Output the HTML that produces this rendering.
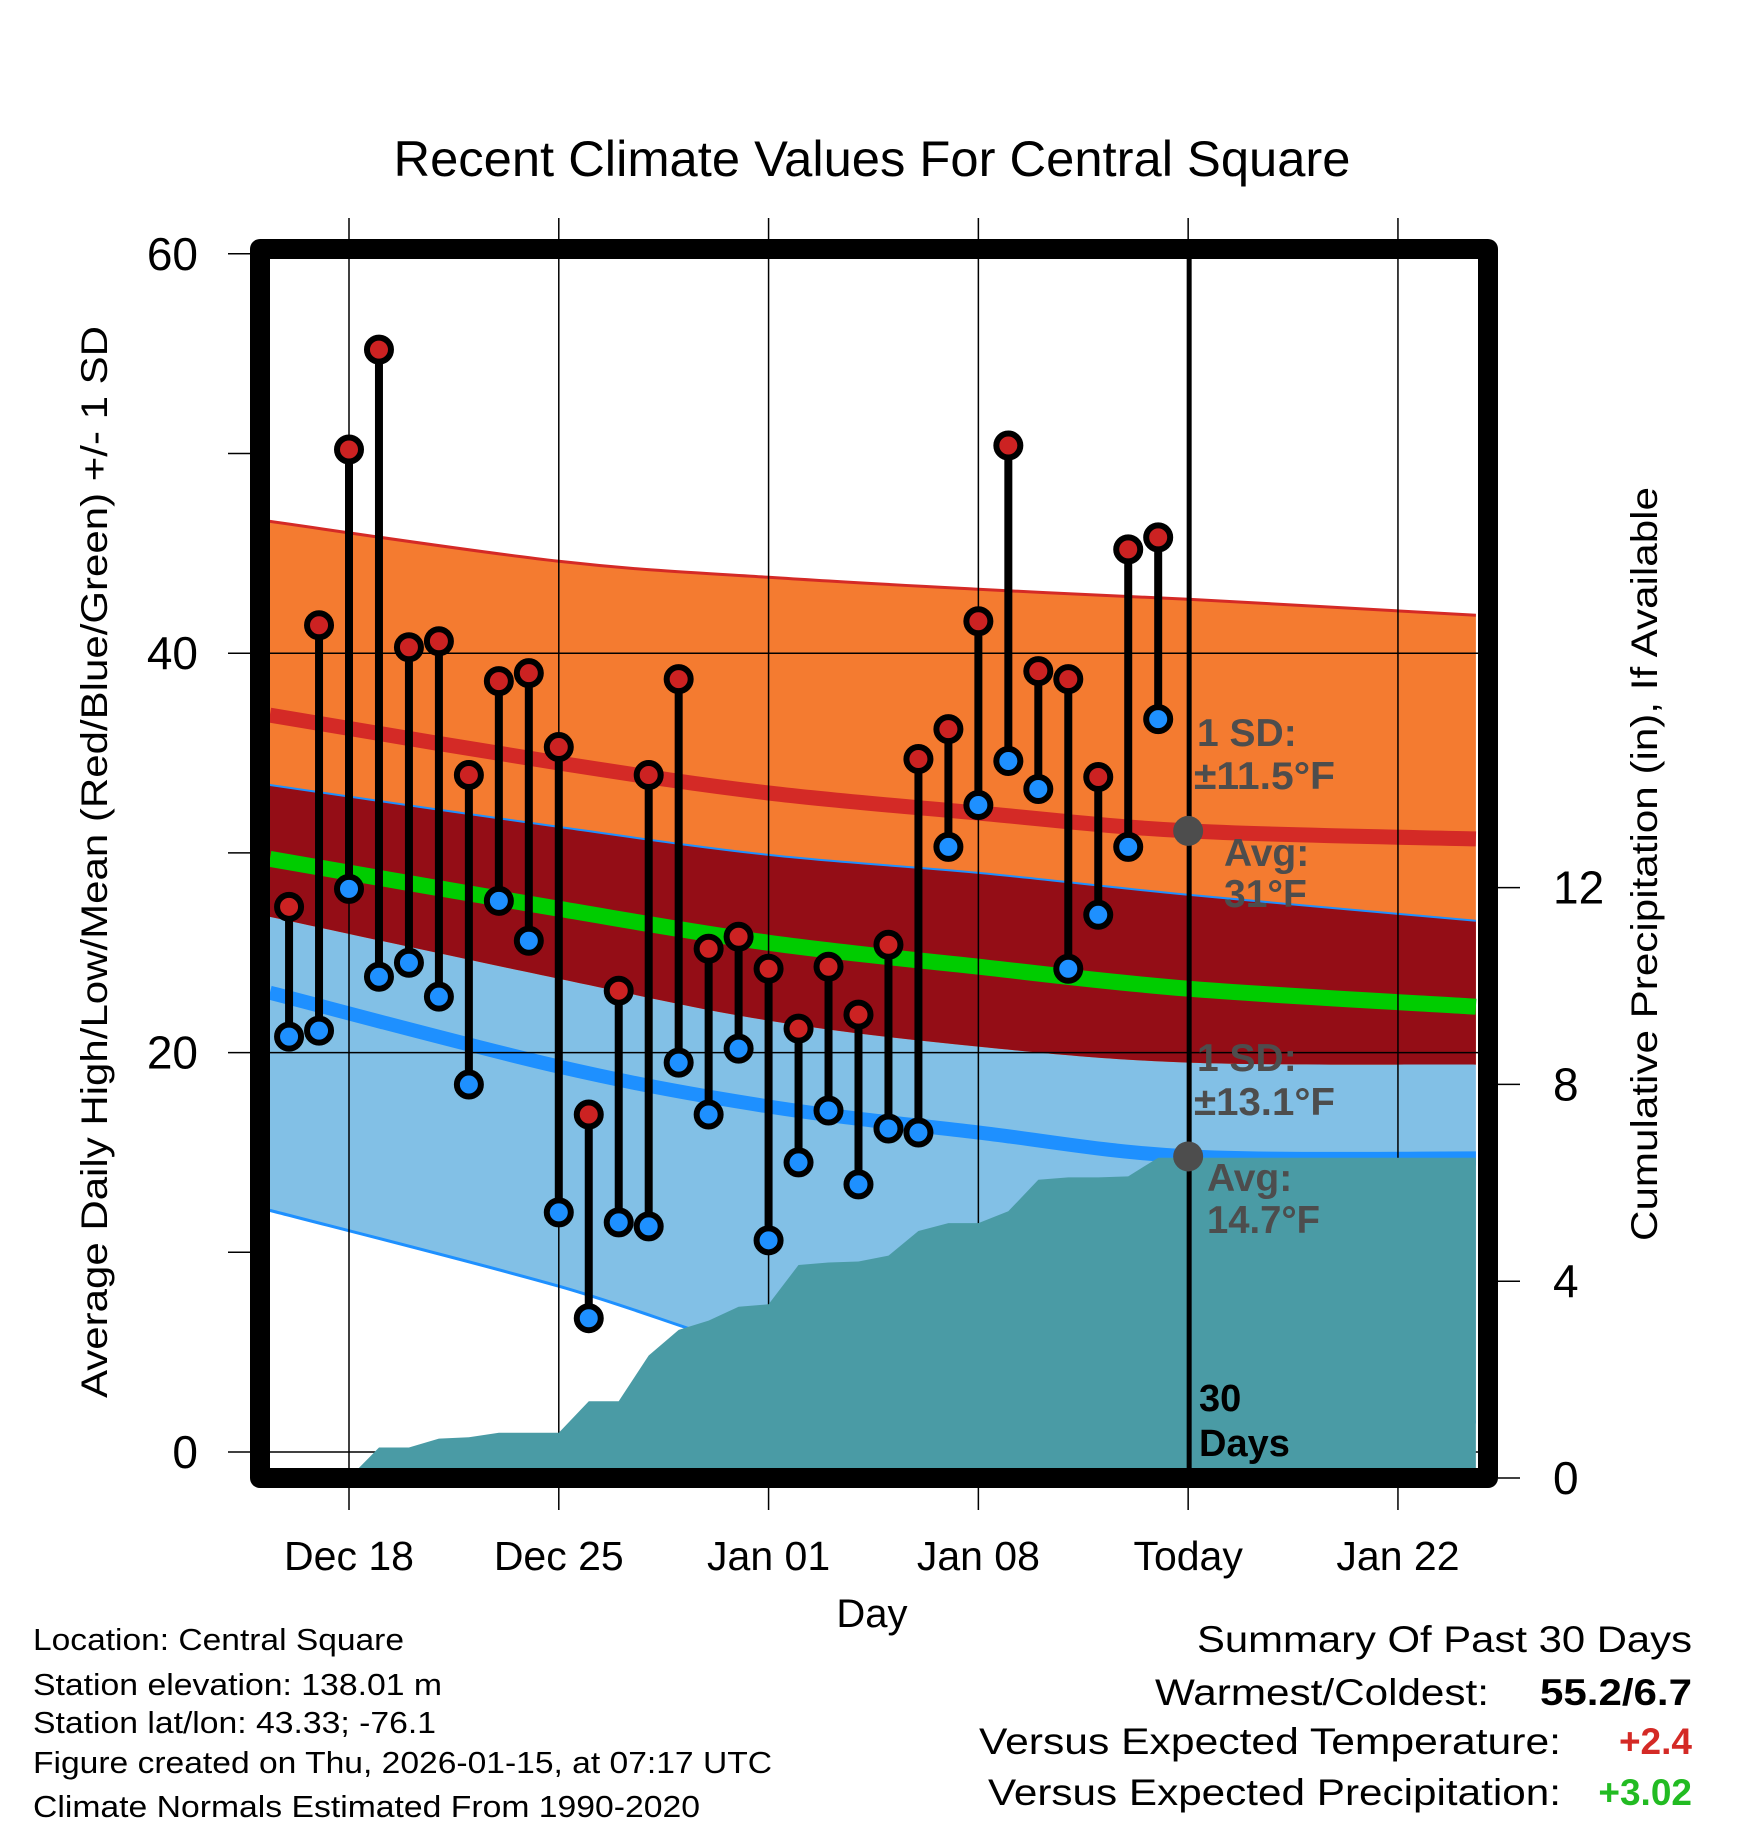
<!DOCTYPE html>
<html><head><meta charset="utf-8"><style>
html,body{margin:0;padding:0;background:#fff;}
svg{display:block;font-family:"Liberation Sans",sans-serif;}
</style></head><body>
<svg id="chart" width="1748" height="1828" viewBox="0 0 1748 1828" xmlns="http://www.w3.org/2000/svg">
<rect width="1748" height="1828" fill="#fff"/>
<defs><clipPath id="plotclip"><rect x="270" y="259" width="1208" height="1209"/></clipPath></defs>
<text x="872" y="176" font-size="50" text-anchor="middle" textLength="957" lengthAdjust="spacingAndGlyphs">Recent Climate Values For Central Square</text>
<g id="bands" clip-path="url(#plotclip)"></g>
<g id="grid"></g>
<g id="precip" clip-path="url(#plotclip)"></g>
<g id="lines" clip-path="url(#plotclip)"></g>
<g id="today"></g>
<g id="marks"></g>
<g id="annot" font-weight="bold" fill="#4d4d4d" font-size="39">
<text x="1197" y="746">1 SD:</text>
<text x="1194" y="789" textLength="141" lengthAdjust="spacingAndGlyphs">±11.5°F</text>
<text x="1224" y="866">Avg:</text>
<text x="1224" y="907">31°F</text>
<text x="1197" y="1071">1 SD:</text>
<text x="1194" y="1115" textLength="141" lengthAdjust="spacingAndGlyphs">±13.1°F</text>
<text x="1207" y="1191">Avg:</text>
<text x="1207" y="1233" textLength="113" lengthAdjust="spacingAndGlyphs">14.7°F</text>
</g>
<text x="1199" y="1411" font-size="38" font-weight="bold">30</text>
<text x="1199" y="1456" font-size="38" font-weight="bold">Days</text>
<rect x="260" y="249" width="1228" height="1229" fill="none" stroke="#000" stroke-width="20" stroke-linejoin="round"/>
<g id="axes"></g>
<text transform="translate(107,862) rotate(-90)" font-size="37" text-anchor="middle" textLength="1072" lengthAdjust="spacingAndGlyphs">Average Daily High/Low/Mean (Red/Blue/Green) +/- 1 SD</text>
<text transform="translate(1657,864) rotate(-90)" font-size="37" text-anchor="middle" textLength="754" lengthAdjust="spacingAndGlyphs">Cumulative Precipitation (in), If Available</text>
<text x="872" y="1627" font-size="40" text-anchor="middle">Day</text>
<g font-size="31">
<text x="33" y="1650" textLength="371" lengthAdjust="spacingAndGlyphs">Location: Central Square</text>
<text x="33" y="1695" textLength="409" lengthAdjust="spacingAndGlyphs">Station elevation: 138.01 m</text>
<text x="33" y="1733" textLength="403" lengthAdjust="spacingAndGlyphs">Station lat/lon: 43.33; -76.1</text>
<text x="33" y="1773" textLength="739" lengthAdjust="spacingAndGlyphs">Figure created on Thu, 2026-01-15, at 07:17 UTC</text>
<text x="33" y="1817" textLength="667" lengthAdjust="spacingAndGlyphs">Climate Normals Estimated From 1990-2020</text>
</g>
<g font-size="37">
<text x="1692" y="1652" text-anchor="end" textLength="495" lengthAdjust="spacingAndGlyphs">Summary Of Past 30 Days</text>
<text x="1155" y="1705" textLength="334" lengthAdjust="spacingAndGlyphs">Warmest/Coldest:</text>
<text x="1692" y="1705" text-anchor="end" font-weight="bold" textLength="152" lengthAdjust="spacingAndGlyphs">55.2/6.7</text>
<text x="979" y="1754" textLength="582" lengthAdjust="spacingAndGlyphs">Versus Expected Temperature:</text>
<text x="1692" y="1754" text-anchor="end" font-weight="bold" fill="#d42a26">+2.4</text>
<text x="988" y="1805" textLength="573" lengthAdjust="spacingAndGlyphs">Versus Expected Precipitation:</text>
<text x="1692" y="1805" text-anchor="end" font-weight="bold" fill="#22bb22">+3.02</text>
</g>
</svg>
<script>
// ---- data ----
const obsDays = [-2,-1,0,1,2,3,4,5,6,7,8,9,10,11,12,13,14,15,16,17,18,19,20,21,22,23,24,25,26,27];
const highs = [27.3,41.4,50.2,55.2,40.3,40.6,33.9,38.6,39.0,35.3,16.9,23.1,33.9,38.7,25.2,25.8,24.2,21.2,24.3,21.9,25.4,34.7,36.2,41.6,50.4,39.1,38.7,33.8,45.2,45.8];
const lows = [20.8,21.1,28.2,23.8,24.5,22.8,18.4,27.6,25.6,12.0,6.7,11.5,11.3,19.5,16.9,20.2,10.6,14.5,17.1,13.4,16.2,16.0,30.3,32.4,34.6,33.2,24.2,26.9,30.3,36.7];
const normDays = [-2.64,7,14,21,28,37.6];
const hiUpper = [46.6,44.6,43.8,43.2,42.7,41.9];
const hiMean = [36.9,34.5,33.0,32.0,31.1,30.7];
const hiLower = [26.8,23.7,21.6,20.3,19.5,19.4];
const loUpper = [33.4,31.3,29.9,29.0,27.9,26.6];
const loMean = [23.0,19.3,17.3,16.0,14.8,14.7];
const loLower = [12.1,8.3,5.0,3.2,1.6,1.5];
const meanT = [29.7,27.2,25.5,24.3,23.2,22.3];
const precipDays = [-2,-1,0,1,2,3,4,5,6,7,8,9,10,11,12,13,14,15,16,17,18,19,20,21,22,23,24,25,26,27,28,37.6];
const precipCum = [0,0,0,0.62,0.62,0.80,0.83,0.92,0.92,0.92,1.56,1.56,2.49,3.01,3.20,3.48,3.53,4.33,4.38,4.40,4.52,5.02,5.18,5.18,5.42,6.06,6.11,6.11,6.13,6.51,6.51,6.51];
const xTickDays = [0,7,14,21,28,35];
const xTickLabels = ["Dec 18","Dec 25","Jan 01","Jan 08","Today","Jan 22"];
const yTicks = [0,10,20,30,40,50,60];
const yTickLabels = ["0","","20","","40","","60"];
const y2Ticks = [0,4,8,12];
const todayDay = 28;
// ---- scales ----
const NS="http://www.w3.org/2000/svg";
const X = d => 349 + 29.97*d;
const Y = v => 1452 - 19.97*v;
const Y2 = p => 1478 - 49.2*p;
function mk(tag, attrs, parent){const e=document.createElementNS(NS,tag);for(const k in attrs)e.setAttribute(k,attrs[k]);parent.appendChild(e);return e;}
function xy(days, vals){return days.map((d,i)=>[X(d),Y(vals[i])]);}
// smooth catmull-rom path segment (without initial M)
function smooth(p){let s='';for(let i=0;i<p.length-1;i++){const p0=p[i-1]||p[i],p1=p[i],p2=p[i+1],p3=p[i+2]||p2;
 const c1=[p1[0]+(p2[0]-p0[0])/6,p1[1]+(p2[1]-p0[1])/6],c2=[p2[0]-(p3[0]-p1[0])/6,p2[1]-(p3[1]-p1[1])/6];
 s+=` C${c1[0].toFixed(1)},${c1[1].toFixed(1)} ${c2[0].toFixed(1)},${c2[1].toFixed(1)} ${p2[0].toFixed(1)},${p2[1].toFixed(1)}`;}return s;}
function bandPath(a,b){const p=xy(normDays,a),q=xy(normDays,b).reverse();
 return `M${p[0][0]},${p[0][1]}`+smooth(p)+` L${q[0][0]},${q[0][1]}`+smooth(q)+' Z';}
function linePath(a){const p=xy(normDays,a);return `M${p[0][0]},${p[0][1]}`+smooth(p);}
const bands=document.getElementById('bands');
let p;
p=mk('path',{d:bandPath(loUpper,loLower),fill:'#82c0e6'},bands);


p=mk('path',{d:bandPath(hiUpper,hiLower),fill:'#f47b30'},bands);


p=mk('path',{d:bandPath(loUpper,hiLower),fill:'#940d16'},bands);


function line(vals,color,w,name){const l=mk('path',{d:linePath(vals),fill:'none',stroke:color,'stroke-width':w},bands);

}
line(hiUpper,'#d42a26',3,'high-upper-line');
line(loUpper,'#1e90ff',2,'low-upper-line');
line(loLower,'#1e90ff',3,'low-lower-line');
line(hiMean,'#d42a26',15,'normal-high-line');
line(loMean,'#1e90ff',14,'normal-low-line');
line(meanT,'#00cc00',16,'normal-mean-line');
// grid
const grid=document.getElementById('grid');
xTickDays.forEach((d,i)=>{const g=mk('line',{x1:X(d),x2:X(d),y1:218,y2:1510,stroke:'#000','stroke-width':1.5},grid);

});
[0,20,40].forEach(v=>{const g=mk('line',{x1:270,x2:1478,y1:Y(v),y2:Y(v),stroke:'#000','stroke-width':1.5},grid);

});
// precip area
const pg=document.getElementById('precip');
let pp=[X(precipDays[0])+","+Y2(0)];
precipDays.forEach((d,i)=>{pp.push(X(d).toFixed(1)+","+Y2(precipCum[i]).toFixed(1));});
pp.push(X(precipDays[precipDays.length-1])+","+Y2(0));
p=mk('polygon',{points:pp.join(' '),fill:'#4a9ba5'},pg);


// today line
const tg=document.getElementById('today');
p=mk('line',{x1:X(todayDay)+1,x2:X(todayDay)+1,y1:259,y2:1468,stroke:'#000','stroke-width':5},tg);


p=mk('circle',{cx:X(todayDay),cy:Y(hiMean[4]),r:15,fill:'#4d4d4d'},tg);


p=mk('circle',{cx:X(todayDay),cy:Y(loMean[4]),r:15,fill:'#4d4d4d'},tg);


// observations
const mg=document.getElementById('marks');
obsDays.forEach((d,i)=>{
 const x=X(d);
 const l=mk('line',{x1:x,x2:x,y1:Y(highs[i]),y2:Y(lows[i]),stroke:'#000','stroke-width':8},mg);
 
 
 const h=mk('circle',{cx:x,cy:Y(highs[i]),r:12,fill:'#cc2222',stroke:'#000','stroke-width':6},mg);
 
 
 const c=mk('circle',{cx:x,cy:Y(lows[i]),r:12,fill:'#1e90ff',stroke:'#000','stroke-width':6},mg);
 
 
});
// axes
const ax=document.getElementById('axes');
yTicks.forEach((v,i)=>{
 const t=mk('line',{x1:228,x2:250,y1:Y(v),y2:Y(v),stroke:'#000','stroke-width':1.5},ax);
 
 
 if(yTickLabels[i]){const tx=mk('text',{x:198,y:Y(v)+16,'font-size':46,'text-anchor':'end'},ax);tx.textContent=yTickLabels[i];
 
 }
});
y2Ticks.forEach(v=>{
 const t=mk('line',{x1:1498,x2:1520,y1:Y2(v),y2:Y2(v),stroke:'#000','stroke-width':1.5},ax);
 
 
 const tx=mk('text',{x:1553,y:Y2(v)+16,'font-size':46},ax);tx.textContent=String(v);
 
 
});
xTickDays.forEach((d,i)=>{
 const tx=mk('text',{x:X(d),y:1570,'font-size':41,'text-anchor':'middle'},ax);tx.textContent=xTickLabels[i];
 
 
});
</script>
</body></html>
